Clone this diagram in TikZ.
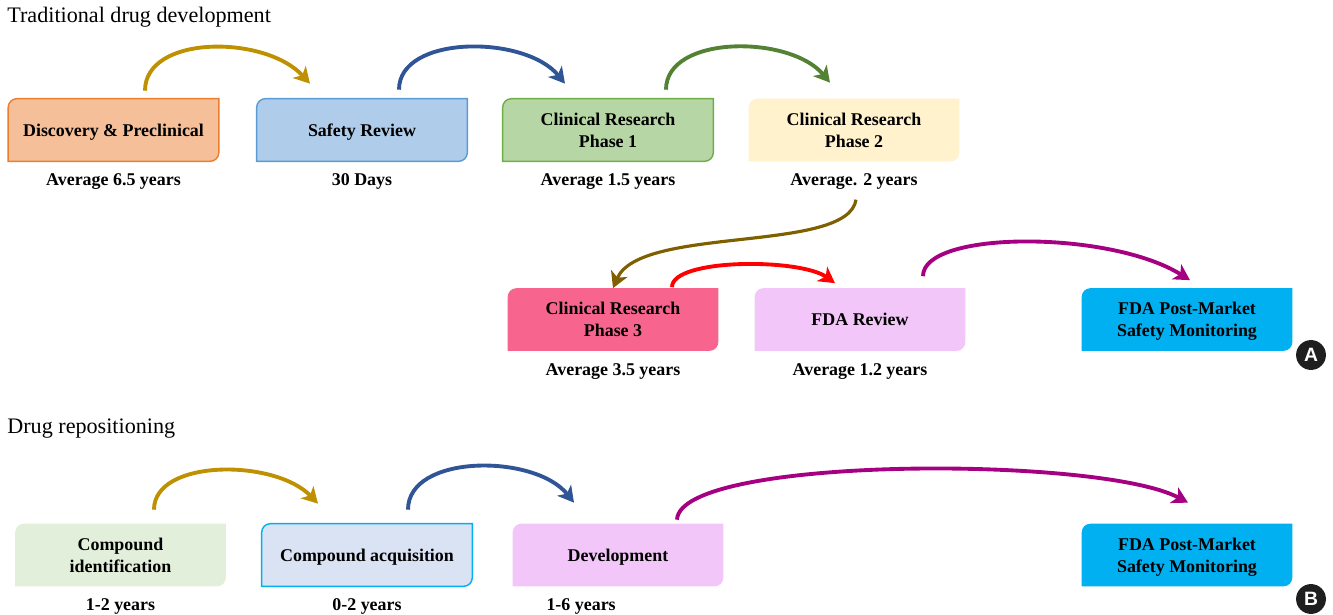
\documentclass[tikz,border=0pt]{standalone}
\usepackage{fontspec}
\setmainfont{Liberation Serif}
\setsansfont{Liberation Sans}
\usetikzlibrary{positioning,calc,arrows.meta,backgrounds}

% Colores de las cajas
\definecolor{cdisc}{HTML}{F5BF99}
\definecolor{ldisc}{HTML}{ED7D31}
\definecolor{cseg}{HTML}{AFCCEA}
\definecolor{lseg}{HTML}{5B9BD5}
\definecolor{cfa}{HTML}{B6D7A5}
\definecolor{lfa}{HTML}{70AD47}
\definecolor{cfb}{HTML}{FFF2CC}
\definecolor{cfc}{HTML}{F7658F}
\definecolor{cfda}{HTML}{F2C6F8}
\definecolor{cpost}{HTML}{00B0F0}
\definecolor{cident}{HTML}{E2EFDA}
\definecolor{cadq}{HTML}{DAE3F3}
\definecolor{ladq}{HTML}{00B0F0}
% Colores de las flechas
\definecolor{oro}{HTML}{BF9000}
\definecolor{azul}{HTML}{2F5597}
\definecolor{verde}{HTML}{548235}
\definecolor{oliva}{HTML}{7F6000}
\definecolor{rojo}{HTML}{FF0000}
\definecolor{morado}{HTML}{A50081}

\begin{document}
\begin{tikzpicture}[x=0.02cm,y=-0.02cm,
    etapa/.style={minimum width=4.2cm,minimum height=1.24cm,inner sep=0pt,align=center,
        text depth=0pt,font=\fontsize{10.2}{12.5}\selectfont\bfseries},
    nota/.style={inner sep=2pt,font=\fontsize{10.2}{12.5}\selectfont\bfseries},
    flecha/.style={-{Stealth[length=9pt,width=10pt,inset=2.5pt]},line width=2.2pt},
    sello/.style={circle,fill=black!88,text=white,minimum size=17pt,inner sep=0pt,
        font=\sffamily\bfseries\fontsize{11}{11}\selectfont},
    titulo/.style={anchor=west,inner sep=0pt,font=\fontsize{12.6}{15}\selectfont}]
    \useasboundingbox (0,0) rectangle (1333,615);

    % Títulos
    \node[titulo] (tit1) at (7,17) {Traditional drug development};
    \node[titulo] (tit2) at (7,429) {Drug repositioning};

    % Cajas
    \node[etapa] (disc) at (113.5,130) {Discovery \& Preclinical};
    \node[etapa] (seg) at (362,130) {Safety Review};
    \node[etapa] (fa) at (608,130) {Clinical Research\\Phase 1};
    \node[etapa] (fb) at (854,130) {Clinical Research\\Phase 2};
    \node[etapa] (fc) at (613,319.5) {Clinical Research\\Phase 3};
    \node[etapa] (fda) at (860,319.5) {FDA Review};
    \node[etapa] (post) at (1187,319.5) {FDA Post-Market\\Safety Monitoring};
    \node[etapa] (ident) at (120.5,555) {Compound\\identification};
    \node[etapa] (adq) at (367,555) {Compound acquisition};
    \node[etapa] (des) at (618,555) {Development};
    \node[etapa] (postb) at (1187,555) {FDA Post-Market\\Safety Monitoring};

    % Fondos
    \begin{scope}[on background layer]
        \foreach \n/\f/\d in {disc/cdisc/ldisc,seg/cseg/lseg,fa/cfa/lfa,fb/cfb/none,
                fc/cfc/none,fda/cfda/none,post/cpost/none,ident/cident/none,
                adq/cadq/ladq,des/cfda/none,postb/cpost/none}
            \path[fill=\f,draw=\d,line width=0.8pt] (\n.south west) --
                ([yshift=-5pt]\n.north west) arc[start angle=180,end angle=90,radius=5pt] --
                (\n.north east) --
                ([yshift=5pt]\n.south east) arc[start angle=0,end angle=-90,radius=5pt] --
                cycle;
    \end{scope}

    % Tiempos
    \node[nota,below=5pt of disc] (t1) {Average 6.5 years};
    \node[nota,below=5pt of seg] (t2) {30 Days};
    \node[nota,below=5pt of fa] (t3) {Average 1.5 years};
    \node[nota,below=5pt of fb] (t4) {Average. 2 years};
    \node[nota,below=5pt of fc] (t5) {Average 3.5 years};
    \node[nota,below=5pt of fda] (t6) {Average 1.2 years};
    \node[nota,below=5pt of ident] (b1) {1-2 years};
    \node[nota,below=5pt of adq] (b2) {0-2 years};
    \node[nota,below=5pt of des,xshift=-21pt] (b3) {1-6 years};

    % Flechas
    \draw[flecha,oro] ($(disc.north)+(31.5,-8)$) .. controls +(0,-56) and +(-45,-49) .. ($(seg.north)+(-52,-15)$);
    \draw[flecha,azul] ($(seg.north)+(37,-9)$) .. controls +(0,-55) and +(-40,-49) .. ($(fa.north)+(-43,-15)$);
    \draw[flecha,verde] ($(fa.north)+(58,-9)$) .. controls +(0,-55) and +(-40,-48) .. ($(fb.north)+(-24,-16)$);
    \draw[flecha,oliva,line width=1.8pt] ($(t4.south)+(2,6)$) .. controls +(-8,54) and +(27,-63) .. (fc.north);
    \draw[flecha,rojo] ($(fc.north)+(59,-1)$) .. controls +(0,-29) and +(-35,-25) .. ($(fda.north)+(-25,-5)$);
    \draw[flecha,morado] ($(fda.north)+(63,-12)$) .. controls +(0,-46) and +(-80,-50) .. ($(post.north)+(3,-8)$);
    \draw[flecha,oro] ($(ident.north)+(33.5,-14)$) .. controls +(0,-51) and +(-43,-45) .. ($(adq.north)+(-49,-20)$);
    \draw[flecha,azul] ($(adq.north)+(41,-14)$) .. controls +(0,-56) and +(-39,-49) .. ($(des.north)+(-44,-21)$);
    \draw[flecha,morado] ($(des.north)+(59,-4)$) .. controls +(3,-64) and +(-88,-47) .. ($(postb.north)+(1,-21)$);

    % Sellos
    \node[sello] (selloA) at (1311,355) {A};
    \node[sello] (selloB) at (1311,599) {B};
\end{tikzpicture}
\end{document}
